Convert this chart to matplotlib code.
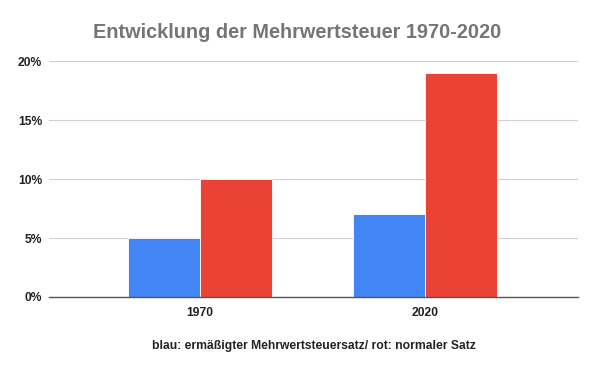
import matplotlib.pyplot as plt
import numpy as np

plt.rcParams['font.family'] = ['Liberation Sans', 'DejaVu Sans']

years = ['1970', '2020']
reduced_rate = [5, 7]
normal_rate = [10, 19]
yticks = [0, 5, 10, 15, 20]

fig = plt.figure(figsize=(5.95, 3.68), dpi=100)
ax = fig.add_axes([0.0824, 0.193, 0.889, 0.641])

x = np.arange(len(years))
w = 0.32
ax.bar(x - w / 2, reduced_rate, width=w, color='#4285F4', edgecolor='white', linewidth=0.6, zorder=3)
ax.bar(x + w / 2, normal_rate, width=w, color='#EA4335', edgecolor='white', linewidth=0.6, zorder=3)

ax.set_xlim(-0.67, 1.68)
ax.set_ylim(0, 20)
ax.set_yticks(yticks)
ax.set_yticklabels([f'{v}%' for v in yticks], fontsize=8.7, fontweight='bold', color='#222222')
ax.set_xticks(x)
ax.set_xticklabels(years, fontsize=8.7, fontweight='bold', color='#222222')
ax.tick_params(axis='y', length=0, pad=5)
ax.tick_params(axis='x', length=0, pad=7)
ax.grid(axis='y', color='#d0d0d0', linewidth=0.8, zorder=0)
for s in ['top', 'right', 'left']:
    ax.spines[s].set_visible(False)
ax.spines['bottom'].set_color('#555555')
ax.spines['bottom'].set_linewidth(1)
ax.spines['bottom'].set_zorder(4)

ax.set_xlabel('blau: ermäßigter Mehrwertsteuersatz/ rot: normaler Satz',
              fontsize=8.7, fontweight='bold', color='#222222', labelpad=15)
fig.text(0.5, 0.897, 'Entwicklung der Mehrwertsteuer 1970-2020', ha='center', va='baseline',
         fontsize=14.3, fontweight='bold', color='#757575')

fig.savefig('out.png', dpi=100)
